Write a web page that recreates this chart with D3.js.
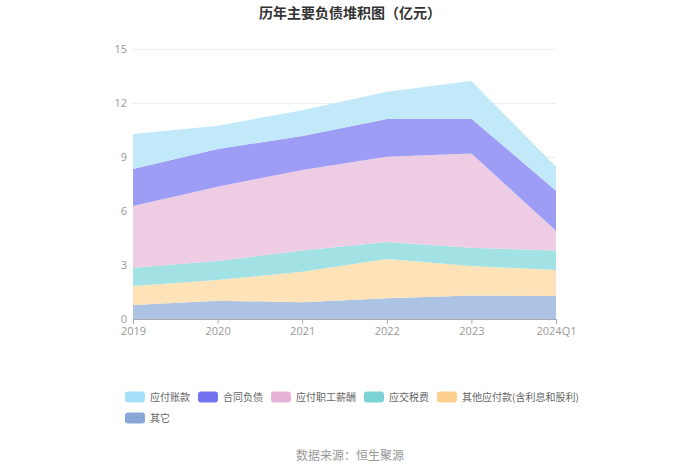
<!DOCTYPE html>
<html><head><meta charset="utf-8">
<script src="https://cdn.jsdelivr.net/npm/d3@7/dist/d3.min.js"></script>
<style>body{margin:0;background:#fff;}svg{display:block;font-family:"Noto Sans CJK SC","Noto Sans",sans-serif;}</style>
</head><body>
<svg id="c" width="700" height="473"></svg>
<script>
const categories = ["2019","2020","2021","2022","2023","2024Q1"];
const seriesNames = ["应付账款","合同负债","应付职工薪酬","应交税费","其他应付款(含利息和股利)","其它"];
const 应付账款 = [1.95,1.29,1.43,1.52,2.09,1.33];
const 合同负债 = [2.05,2.09,1.89,2.09,1.93,2.23];
const 应付职工薪酬 = [3.43,4.13,4.48,4.74,5.24,1.10];
const 应交税费 = [1.02,1.05,1.17,0.95,1.02,1.08];
const 其他应付款 = [1.05,1.15,1.70,2.18,1.63,1.44];
const 其它 = [0.78,1.02,0.93,1.15,1.31,1.28];
const yTicks = [0,3,6,9,12,15];
const lineColors = ["#a6e0f8","#7373ef","#e8b3d9","#7cd3d6","#fdd08f","#88a7d8"];
const fillColors = ["#c2e9fa","#9d9df5","#eecde4","#a2e2e4","#fde3b7","#adc3e3"];

const seriesData = [应付账款,合同负债,应付职工薪酬,应交税费,其他应付款,其它];
const stackOrder = [5,4,3,2,1,0]; // bottom to top
const rows = categories.map((c,i)=>{const r={cat:c}; seriesNames.forEach((n,k)=>r[n]=seriesData[k][i]); return r;});
const stack = d3.stack().keys(stackOrder.map(k=>seriesNames[k]))(rows);

const svg = d3.select("#c");
const x = d3.scalePoint().domain(categories).range([133,556]);
const y = d3.scaleLinear().domain([0,15]).range([319,49]);

svg.append("text").attr("x",350).attr("y",18).attr("text-anchor","middle")
  .attr("font-size",14).attr("font-weight","bold").attr("fill","#333").text("历年主要负债堆积图（亿元）");

// gridlines
svg.append("g").selectAll("line").data(yTicks.filter(t=>t>0)).join("line")
  .attr("x1",133).attr("x2",556).attr("y1",d=>y(d)+0.5).attr("y2",d=>y(d)+0.5)
  .attr("stroke","#eeeeee").attr("stroke-width",1);

const area = d3.area().x((d,i)=>x(categories[i])).y0(d=>y(d[0])).y1(d=>y(d[1])).curve(d3.curveLinear);
svg.append("g").selectAll("path").data(stack).join("path")
  .attr("d",area).attr("fill",(d,i)=>fillColors[stackOrder[i]]);

// y axis labels
const yAxis = d3.axisLeft(y).tickValues(yTicks).tickSize(0).tickPadding(6);
const gy = svg.append("g").attr("transform","translate(133,0)").call(yAxis);
gy.select(".domain").remove();
gy.selectAll("text").attr("fill","#999").attr("font-size",11).attr("font-family","'Open Sans','Noto Sans',sans-serif");

// x axis
const xAxis = d3.axisBottom(x).tickSize(5).tickPadding(3).tickSizeOuter(0);
const gx = svg.append("g").attr("transform","translate(0,319)").call(xAxis);
gx.select(".domain").attr("stroke","#aaa").attr("d","M133,0.5H556");
gx.selectAll(".tick line").attr("stroke","#aaa");
gx.selectAll("text").attr("fill","#999").attr("font-size",11).attr("font-family","'Open Sans','Noto Sans',sans-serif");

// legend
const lg = svg.append("g");
let lx = 125, ly = 397;
seriesNames.forEach((n,k)=>{
  if(k===5){ lx = 125; ly = 418; }
  lg.append("rect").attr("x",lx).attr("y",ly-5.5).attr("width",20).attr("height",11).attr("rx",3)
    .attr("fill",lineColors[k]);
  const t = lg.append("text").attr("x",lx+25).attr("y",ly+3.5).attr("font-size",10).attr("fill","#666").text(n);
  lx += 25 + t.node().getComputedTextLength() + 8;
});

svg.append("text").attr("x",350).attr("y",460).attr("text-anchor","middle")
  .attr("font-size",12).attr("fill","#999").text("数据来源：恒生聚源");
</script>
</body></html>
